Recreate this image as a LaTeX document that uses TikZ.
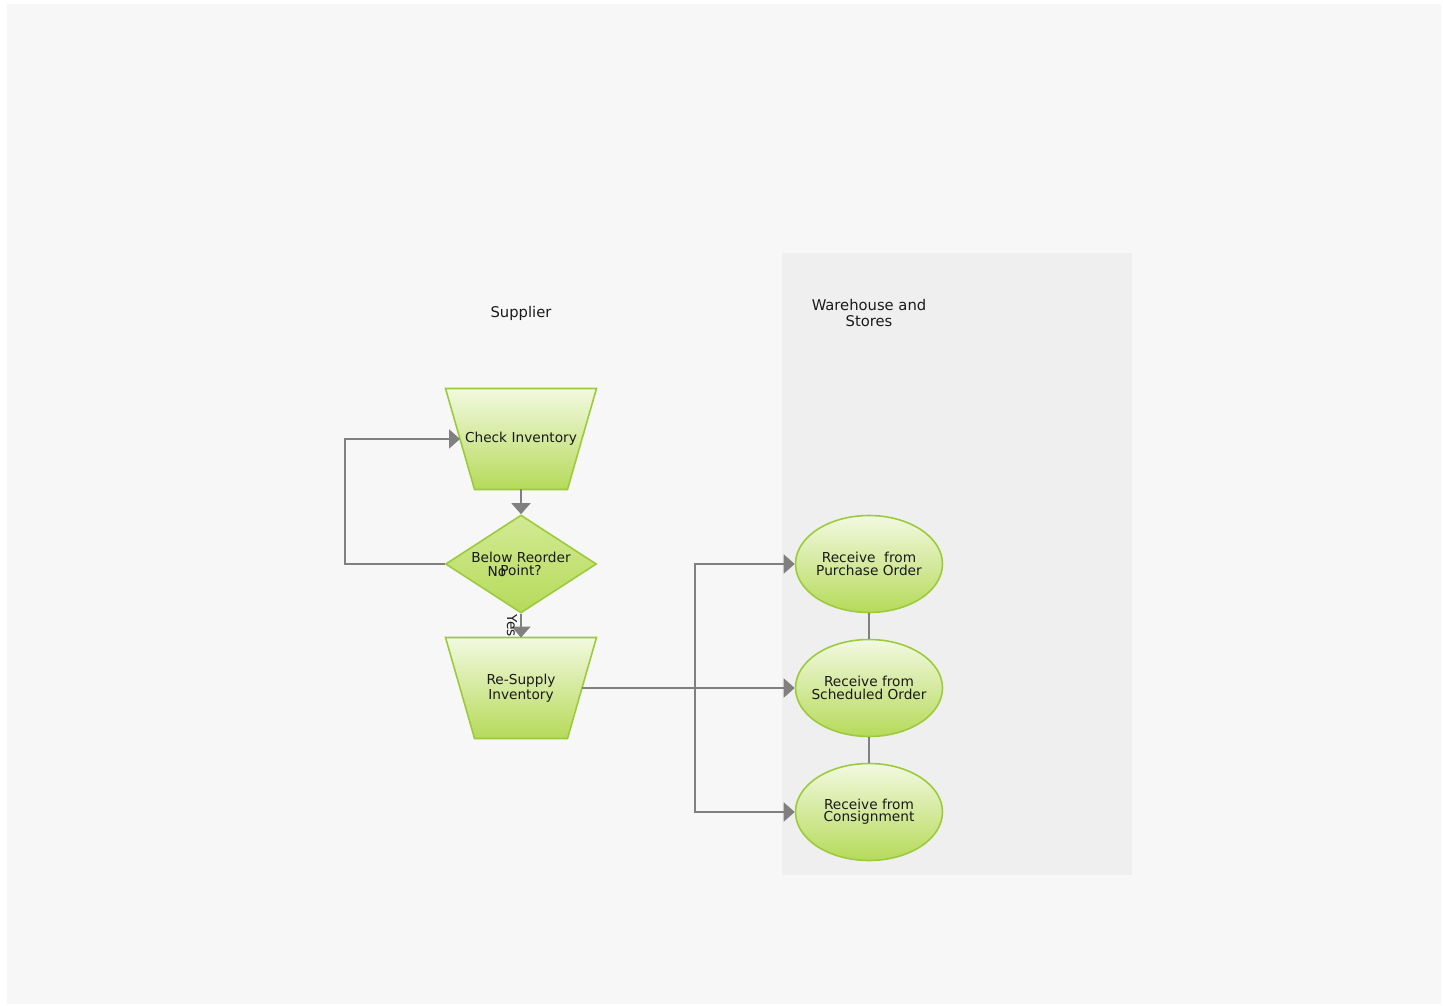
\documentclass[tikz,border=0pt]{standalone}
\usepackage{fontspec}
\setmainfont{DejaVu Sans}
\usetikzlibrary{shapes.geometric,arrows.meta}
\definecolor{bgc}{HTML}{F7F7F7}
\definecolor{lanec}{HTML}{EFEFEF}
\definecolor{edgegreen}{HTML}{9BCB3A}
\definecolor{lightg}{HTML}{F2F9E0}
\definecolor{darkg}{HTML}{B6DA5A}
\definecolor{midg}{HTML}{D2EA94}
\definecolor{conngray}{HTML}{808080}
\definecolor{txt}{HTML}{1A1A1A}
\tikzset{
  shapetext/.style={font=\fontsize{7.8}{7}\selectfont, text=txt, align=center},
  trapbox/.style={shapetext, rectangle, minimum width=3.02cm, minimum height=2.02cm, inner sep=0pt, outer sep=0pt},
  trapbody/.style={draw=edgegreen, line width=0.9pt, top color=lightg, bottom color=darkg},
  decis/.style={shapetext, shape=diamond, aspect=1.54, minimum width=3.02cm, minimum height=1.96cm,
     inner sep=0pt, draw=edgegreen, line width=0.9pt, top color=midg, bottom color=darkg},
  oval/.style={shape=ellipse, minimum width=2.94cm, minimum height=1.94cm,
     inner sep=0pt, draw=edgegreen, line width=0.9pt, top color=lightg, bottom color=darkg},
  conn/.style={draw=conngray, line width=1.1pt, -{Triangle[length=0.22cm,width=0.38cm]}},
  plainconn/.style={draw=conngray, line width=1.1pt},
  title/.style={font=\fontsize{8.4}{9}\selectfont, text=txt, align=center},
  lbl/.style={font=\fontsize{7.8}{7}\selectfont, text=txt, inner sep=0pt}
}
\begin{document}
\begin{tikzpicture}[x=0.02cm,y=-0.02cm]
\useasboundingbox (0,0) rectangle (1443,1006);
\fill[white] (0,0) rectangle (1443,1006);
\fill[bgc] (7,4) rectangle (1441,1004);
\fill[lanec] (782,253) rectangle (1132,875);

\node[title] (tsup) at (521,313) {Supplier};
\node[title] (twar) at (869,313) {Warehouse and\\Stores};

% trapezium boxes (inverted trapezia drawn from the box anchors)
\node[trapbox] (ci) at (521,439) {};
\node[trapbox] (rs) at (521,688) {};
\foreach \n in {ci,rs}{
  \path[trapbody] (\n.north west) -- (\n.north east) -- ([xshift=-0.58cm]\n.south east)
     -- ([xshift=0.58cm]\n.south west) -- cycle;
}
\node[shapetext] (cit) at (ci.center) {Check Inventory};
\node[shapetext] (rst) at (rs.center) {Re-Supply\\Inventory};

\node[decis] (br) at (521,564) {Below Reorder\\Point?};

\node[oval, label={[shapetext]center:Receive\ \ from\\Purchase Order}] (po) at (869,564) {};
\node[oval, label={[shapetext]center:Receive from\\Scheduled Order}] (so) at (869,688) {};
\node[oval, label={[shapetext]center:Receive from\\Consignment}] (cs) at (869,812) {};

\draw[conn] (ci.south) -- (br.north);
\draw[conn] (br.west) -- ++(-100,0) |- ([xshift=0.29cm]ci.west);
\draw[conn] (br.south) -- (rs.north);
\node[lbl] (no) at (497,572) {No};
\node[lbl, rotate=-90] (yes) at (512,626) {Yes};

\coordinate (j) at (695,688);
\draw[plainconn] ([xshift=-0.29cm]rs.east) -- (j);
\draw[conn] (j) |- (po.west);
\draw[conn] (j) -- (so.west);
\draw[conn] (j) |- (cs.west);

\draw[plainconn] (po.south) -- (so.north);
\draw[plainconn] (so.south) -- (cs.north);
\end{tikzpicture}
\end{document}
